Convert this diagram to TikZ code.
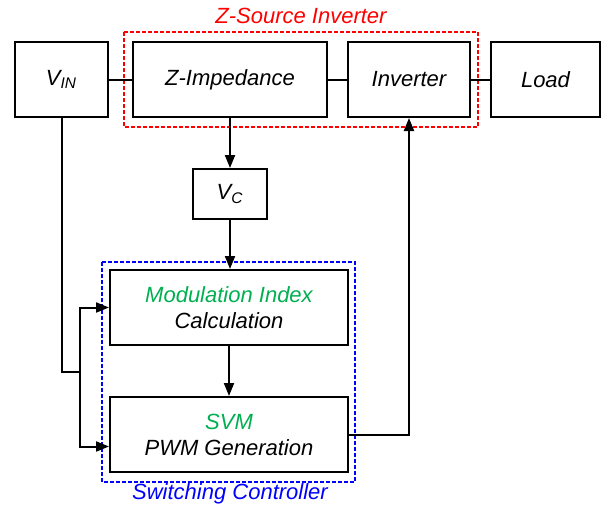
\documentclass[tikz,border=0pt]{standalone}
\usepackage{fontspec}
\setmainfont{Liberation Sans}
\usepackage{xcolor}
\usetikzlibrary{arrows.meta, positioning, calc}
\definecolor{zsrccol}{HTML}{FF0000}
\definecolor{ctrlcol}{HTML}{0000FF}
\definecolor{svmcol}{HTML}{00B050}

\begin{document}
\begin{tikzpicture}[x=0.5pt, y=-0.5pt,
  blk/.style={draw, line width=1pt, minimum height=37.5pt, align=center,
              inner sep=2pt, font=\itshape\fontsize{11}{13}\selectfont},
  arr/.style={-{Triangle[length=6.5pt, width=5pt]}, line width=1pt},
  wire/.style={line width=1pt},
  grp/.style={line width=1pt, dash pattern=on 2pt off 1pt}
]
\useasboundingbox (0,0) rectangle (616,509);

% group frames
\draw[grp, zsrccol] (124,32) rectangle (478,127);
\draw[grp, ctrlcol] (102,262) rectangle (355,482);
\node[font=\itshape\fontsize{11}{13}\selectfont, text=zsrccol] (zlbl) at (301,16) {Z-Source Inverter};
\node[font=\itshape\fontsize{11}{13}\selectfont, text=ctrlcol] (clbl) at (230,494) {Switching Controller};

% power stage
\node[blk, minimum width=46.5pt] (vin)  at (61.5,79.5) {V\textsubscript{IN}};
\node[blk, minimum width=97pt]   (zimp) at (230,79.5)  {Z-Impedance};
\node[blk, minimum width=61pt]   (inv)  at (409,79.5)  {Inverter};
\node[blk, minimum width=54.5pt] (load) at (545.5,79.5) {Load};

% controller
\node[blk, minimum width=37pt, minimum height=25pt] (vc) at (230,194) {V\textsubscript{C}};
\node[blk, minimum width=119pt] (mod) at (229,307.5)
      {\textcolor{svmcol}{Modulation Index}\\ Calculation};
\node[blk, minimum width=119pt] (svm) at (229,434.5)
      {\textcolor{svmcol}{SVM}\\ PWM Generation};

\coordinate (split) at (80,372);

\draw[wire] (vin) -- (zimp);
\draw[wire] (zimp) -- (inv);
\draw[wire] (inv) -- (load);
\draw[arr] (zimp) -- (vc);
\draw[arr] (vc) -- (vc |- mod.north);
\draw[arr] (mod) -- (svm);
\draw[arr] (svm.east) -| (inv.south);
\draw[wire] (vin.south) |- (split);
\draw[arr] (split) |- (mod.west);
\draw[arr] (split) |- ([yshift=-6pt]svm.west);
\end{tikzpicture}
\end{document}
